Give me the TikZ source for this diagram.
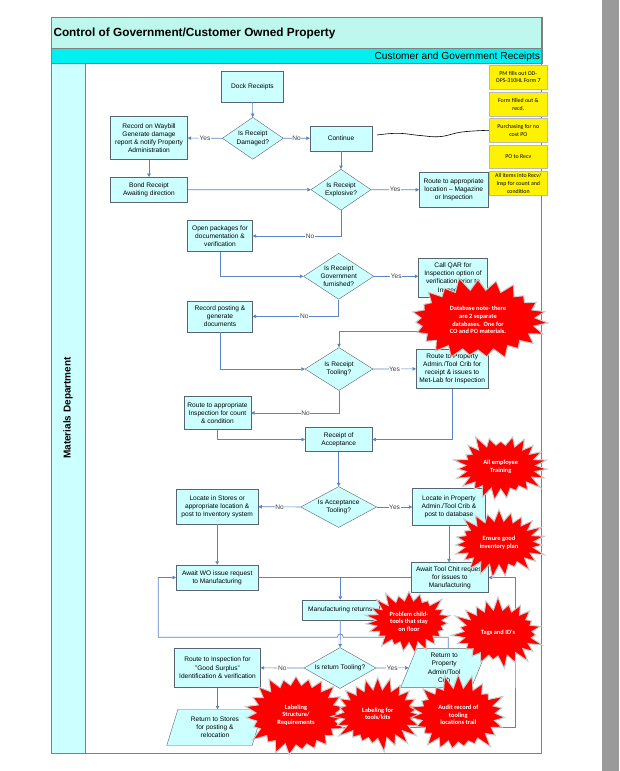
\documentclass[tikz,border=0pt]{standalone}
\usepackage{fontspec}
\setmainfont{Liberation Sans}
\newfontfamily\notefont{Carlito}
\usetikzlibrary{shapes.geometric,shapes.symbols,arrows.meta,calc}

\definecolor{boxfill}{HTML}{CCFFFF}
\definecolor{boxline}{HTML}{5A6470}
\definecolor{flowblue}{HTML}{5B84C8}
\definecolor{titlefill}{HTML}{BDF7EE}
\definecolor{subfill}{HTML}{00F0F0}
\definecolor{framegray}{HTML}{808080}
\definecolor{pagegray}{HTML}{9A9A9A}

\begin{document}
\begin{tikzpicture}[x=1pt, y=-1pt,
		proc/.style={draw=boxline, fill=boxfill, rectangle, align=center, inner sep=1pt, font=\fontsize{6.6}{8.2}\selectfont},
		decision/.style={proc, diamond, aspect=1.6, inner sep=0pt},
		io/.style={proc, trapezium, trapezium left angle=72, trapezium right angle=108, trapezium stretches=true},
		flow/.style={draw=flowblue, line width=0.7pt, -{Triangle[length=3.5pt, width=3.5pt]}},
		lbl/.style={fill=white, inner sep=0.6pt, text=black!75, font=\fontsize{6.6}{8}\selectfont},
		note/.style={draw=gray!55, fill=yellow, align=center, inner sep=0.5pt, minimum width=58.7pt, font=\notefont\fontsize{5.9}{7.8}\selectfont},
		burst/.style={starburst, starburst points=23, starburst point height=14pt, fill=red, draw=gray!40, line width=1pt, text=white, align=center, inner sep=0pt, font=\notefont\bfseries\fontsize{6.4}{7.6}\selectfont}]
	\useasboundingbox (0, 0) rectangle (619, 771);

	% page and swimlane frame
	\fill[pagegray] (602, 0) rectangle (619, 771);
	\draw[framegray, fill=titlefill] (51, 17) rectangle (541.7, 48.3);
	\draw[framegray, fill=subfill] (51, 48.3) rectangle (541.7, 63.3);
	\draw[framegray, fill=boxfill] (51, 63.3) rectangle (85, 753.3);
	\draw[framegray, line width=0.8pt] (51, 17) rectangle (541.7, 753.3);
	\draw (53.3, 36.7) 	node[anchor=base west, inner sep=0pt, font=\bfseries\fontsize{11.8}{14}\selectfont] 	(title) 	{Control of Government/Customer Owned Property};
	\draw (540.3, 59) 	node[anchor=base east, inner sep=0pt, font=\fontsize{10.2}{12}\selectfont] 	(lane) 		{Customer and Government Receipts};
	\draw (68, 408) 	node[rotate=90, inner sep=0pt, font=\bfseries\fontsize{10}{12}\selectfont] 	(dept) 		{Materials Department};

	% receiving
	\draw (252.5, 86.4) 	node[proc, minimum width=62pt, minimum height=31pt] 		(dock) 		{Dock Receipts};
	\draw (252.8, 138.3) 	node[decision, minimum width=61pt, minimum height=42pt] 	(damaged) 	{Is Receipt\\Damaged?};
	\draw (149, 138) 	node[proc, minimum width=77pt, minimum height=43pt] 		(waybill) 	{Record on Waybill\\Generate damage\\report \& notify Property\\Administration};
	\draw (341, 138.2) 	node[proc, minimum width=62pt, minimum height=25pt] 		(cont) 		{Continue};
	\draw (149, 189.8) 	node[proc, minimum width=77pt, minimum height=25pt] 		(bond) 		{Bond Receipt\\Awaiting direction};
	\draw (341, 189.7) 	node[decision, minimum width=60pt, minimum height=41pt] 	(explosive) 	{Is Receipt\\Explosive?};
	\draw (453.8, 189.8) 	node[proc, minimum width=69pt, minimum height=35pt] 		(magazine) 	{Route to appropriate\\location – Magazine\\or Inspection};
	\draw (220, 236) 	node[proc, minimum width=65pt, minimum height=31pt] 		(openpkg) 	{Open packages for\\documentation \&\\verification};
	\draw (338.7, 276.3) 	node[decision, minimum width=69pt, minimum height=46pt] 	(govt) 		{Is Receipt\\Government\\furnished?};
	\draw (453, 278) 	node[proc, minimum width=69pt, minimum height=39pt] 		(qar) 		{Call QAR for\\Inspection option of\\verification prior to\\Inspection};
	\draw (220, 316.3) 	node[proc, minimum width=65pt, minimum height=31pt] 		(posting) 	{Record posting \&\\generate\\documents};
	\draw (339, 369) 	node[decision, minimum width=68pt, minimum height=43pt] 	(tooling) 	{Is Receipt\\Tooling?};
	\draw (452.2, 368.8) 	node[proc, minimum width=72pt, minimum height=39pt] 		(propadmin) 	{Route to Property\\Admin./Tool Crib for\\receipt \& issues to\\Met-Lab for Inspection};
	\draw (217.5, 413) 	node[proc, minimum width=67pt, minimum height=33pt] 		(inspcount) 	{Route to appropriate\\Inspection for count\\\& condition};
	\draw (338.7, 439.5) 	node[proc, minimum width=67pt, minimum height=24pt] 		(accept) 	{Receipt of\\Acceptance};

	% storage and issue
	\draw (338.7, 507) 	node[decision, minimum width=76pt, minimum height=41pt] 	(acctool) 	{Is Acceptance\\Tooling?};
	\draw (217.2, 506.7) 	node[proc, minimum width=82pt, minimum height=35pt] 		(stores) 	{Locate in Stores or\\appropriate location \&\\post to Inventory system};
	\draw (449, 507) 	node[proc, minimum width=73pt, minimum height=37pt] 		(propdb) 	{Locate in Property\\Admin./Tool Crib \&\\post to database};
	\draw (217.2, 577.5) 	node[proc, minimum width=82pt, minimum height=25pt] 		(awaitwo) 	{Await WO issue request\\to Manufacturing};
	\draw (449.8, 577.5) 	node[proc, minimum width=77pt, minimum height=30pt] 		(toolchit) 	{Await Tool Chit request\\for issues to\\Manufacturing};
	\draw (340.3, 610) 	node[proc, minimum width=77pt, minimum height=20pt] 		(mfgret) 	{Manufacturing returns};
	\draw (340, 668) 	node[decision, minimum width=72pt, minimum height=41pt] 	(rettool) 	{Is return Tooling?};
	\draw (217.5, 667.8) 	node[proc, minimum width=86pt, minimum height=39pt] 		(surplus) 	{Route to Inspection for\\"Good Surplus"\\Identification \& verification};
	\draw (444.2, 667.8) 	node[io, minimum width=87pt, minimum height=39pt] 		(retprop) 	{Return to\\Property\\Admin/Tool\\Crib};
	\draw (215, 727.5) 	node[io, minimum width=97pt, minimum height=36pt] 		(retstores) 	{Return to Stores\\for posting \&\\relocation};

	\coordinate (mfgjoin) at (340.3, 577.5);
	\coordinate (hopR) at (343.3, 637.3);
	\coordinate (hopL) at (337.3, 637.3);
	\coordinate (loopL) at (158.3, 637.3);
	\coordinate (loopR) at (515, 650);
	\coordinate (scribble) at (377, 135);

	\draw[flow] (dock) -- (damaged);
	\draw[flow] (damaged) -- node[lbl] {Yes} (waybill);
	\draw[flow] (damaged) -- node[lbl] {No} (cont);
	\draw[flow] (waybill) -- (bond);
	\draw[flow] (cont) -- (explosive);
	\draw[flow] (bond) -- (explosive);
	\draw[flow] (explosive) -- node[lbl] {Yes} (magazine);
	\draw[flow] (explosive.south) |- node[lbl, pos=0.675] {No} (openpkg.east);
	\draw[flow] (openpkg.south) |- (govt.west);
	\draw[flow] (govt.east) -- node[lbl] {Yes} (govt.east -| qar.west);
	\draw[flow] (govt.south) |- node[lbl, pos=0.7] {No} (posting.east);
	\draw[flow] (posting.south) |- (tooling.west);
	\draw[flow] (qar.south) -- ++(0, 33.5) -| (tooling.north);
	\draw[flow] (tooling) -- node[lbl] {Yes} (propadmin);
	\draw[flow] (tooling.south) |- node[lbl, pos=0.69] {No} (inspcount.east);
	\draw[flow] (inspcount.south) |- (accept.west);
	\draw[flow] (propadmin.south) |- (accept.east);
	\draw[flow] (accept) -- (acctool);
	\draw[flow] (acctool) -- node[lbl] {No} (stores);
	\draw[flow] (acctool) -- node[lbl] {Yes} (propdb);
	\draw[flow] (stores) -- (awaitwo);
	\draw[flow] (propdb.south) -- (propdb.south |- toolchit.north);
	\draw[flow, -] (awaitwo.east) -- (toolchit.west);
	\draw[flow] (mfgjoin) -- (mfgret.north);
	\draw[flow] (mfgret) -- (rettool);
	\draw[flow] (rettool) -- node[lbl] {No} (surplus);
	\draw[flow] (rettool) -- node[lbl] {Yes} (retprop);
	\draw[flow] (surplus.south) -- (surplus.south |- retstores.north);
	\draw[flow] ($(retprop.north)+(4, 0)$) |- (hopR) .. controls +(0, -4.5) and +(0, -4.5) .. (hopL) -- (loopL) |- (awaitwo.west);
	\draw[flow] (retstores.east) -| (loopR) |- (toolchit.east);

	% notes
	\draw (518.3, 77) 	node[note, minimum height=24pt] 	(pmform) 	{PM fills out OD-\\OPS-310HL Form 7};
	\draw (518.3, 104.3) 	node[note, minimum height=23.3pt] 	(recd) 		{Form filled out \&\\recd.};
	\draw (518.3, 130.3) 	node[note, minimum height=24pt] 	(nocost) 	{Purchasing for no\\cost PO};
	\draw (518.3, 156.5) 	node[note, minimum height=22.4pt] 	(porecv) 	{PO to Recv};
	\draw (518.3, 183.3) 	node[note, minimum height=24.7pt] 	(intorecv) 	{All items into Recv/\\Insp for count and\\condition};
	\draw[black, line width=0.6pt] plot[smooth, tension=0.7] coordinates {(scribble) (398, 133.3) (420, 135.5) (440, 136.6) (462, 132) (nocost.west)};

	% explosions
	\draw (478, 320) 	node[burst, minimum width=142pt, minimum height=88pt, random starburst=11] 	(sbdb) 		{Database note- there\\are 2 separate\\databases.\ \ One for\\CO and PO materials.};
	\draw (500.7, 467) 	node[burst, minimum width=98pt, minimum height=72pt, random starburst=23] 	(sbtrain) 	{All employee\\Training};
	\draw (499, 543) 	node[burst, minimum width=98pt, minimum height=72pt, random starburst=37] 	(sbinv) 	{Ensure good\\inventory plan};
	\draw (409, 621.7) 	node[burst, minimum width=94pt, minimum height=70pt, random starburst=41] 	(sbchild) 	{Problem child-\\tools that stay\\on floor};
	\draw (498, 633) 	node[burst, minimum width=96pt, minimum height=74pt, random starburst=53] 	(sbtags) 	{Tags and ID's};
	\draw (296, 715) 	node[burst, minimum width=108pt, minimum height=88pt, random starburst=61] 	(sblabel) 	{Labeling\\Structure/\\Requirements};
	\draw (377.7, 714) 	node[burst, minimum width=96pt, minimum height=77pt, random starburst=73] 	(sbkits) 	{Labeling for\\tools/kits};
	\draw (458.3, 715) 	node[burst, minimum width=102pt, minimum height=82pt, random starburst=89] 	(sbaudit) 	{Audit record of\\tooling\\locations trail};
\end{tikzpicture}
\end{document}
